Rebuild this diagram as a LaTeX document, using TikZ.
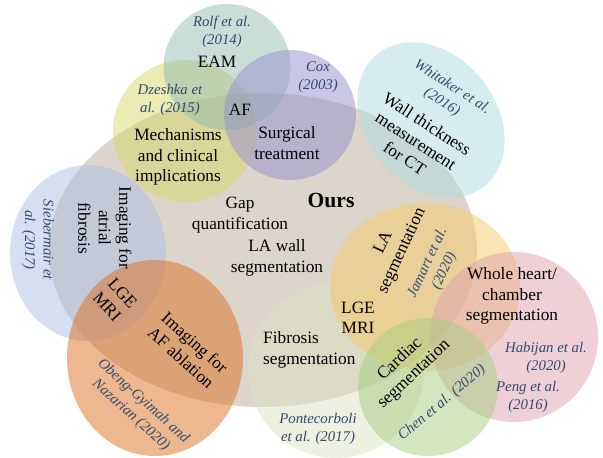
\documentclass[tikz,border=0pt]{standalone}
\usepackage{fontspec}
\setmainfont{Liberation Serif}
\usepackage{tikz}
\usetikzlibrary{shapes.geometric,positioning}
\definecolor{ours-c}{HTML}{B9AB99}
\definecolor{mech-c}{HTML}{D7D769}
\definecolor{eam-c}{HTML}{91BDAD}
\definecolor{surg-c}{HTML}{958FCD}
\definecolor{wall-c}{HTML}{ADDBE1}
\definecolor{fib-c}{HTML}{ADBDE5}
\definecolor{abl-c}{HTML}{DB6F21}
\definecolor{fseg-c}{HTML}{DDE1C1}
\definecolor{la-c}{HTML}{F7C969}
\definecolor{heart-c}{HTML}{DDA1AD}
\definecolor{card-c}{HTML}{A5CD81}
\definecolor{cite-c}{HTML}{2F4A6E}
\tikzset{
	zone/.style={ellipse, draw=none, fill opacity=0.5, inner sep=0pt},
	lbl/.style={align=center, inner sep=0pt, font=\fontsize{17.3}{20.5}\selectfont},
	cite/.style={align=center, inner sep=0pt, text=cite-c, font=\itshape\fontsize{14.8}{18.5}\selectfont}
}

\begin{document}
\begin{tikzpicture}[x=1pt, y=-1pt]
	\useasboundingbox (0, 0) rectangle (603, 458);
	
	\node (ours) at (263, 250) [zone, fill=ours-c, minimum width=428pt, minimum height=314pt] {};
	\node (mechz) at (185, 131) [zone, fill=mech-c, minimum width=144pt, minimum height=142pt] {};
	\node (eamz) at (227, 67) [zone, fill=eam-c, minimum width=127pt, minimum height=126pt] {};
	\node (surgz) at (290, 115) [zone, fill=surg-c, minimum width=132pt, minimum height=130pt] {};
	\node (wallz) at (431, 120) [zone, fill=wall-c, minimum width=170pt, minimum height=130pt, rotate=-51] {};
	\node (fibz) at (88, 253) [zone, fill=fib-c, minimum width=156pt, minimum height=176pt] {};
	\node (ablz) at (155, 358) [zone, fill=abl-c, minimum width=176pt, minimum height=196pt] {};
	\node (fsegz) at (336, 370) [zone, fill=fseg-c, minimum width=176pt, minimum height=176pt] {};
	\node (laz) at (425, 287) [zone, fill=la-c, minimum width=190pt, minimum height=168pt] {};
	\node (heartz) at (514, 337) [zone, fill=heart-c, minimum width=168pt, minimum height=170pt] {};
	\node (cardz) at (428, 387) [zone, fill=card-c, minimum width=140pt, minimum height=138pt] {};
	
	\node (ourst) at (331, 200) [lbl, font=\bfseries\fontsize{21.6}{26}\selectfont] {Ours};
	\node (gap) at (240, 215) [lbl] {Gap\\quantification};
	\node (lawall) at (277, 258) [lbl] {LA wall\\segmentation};
	
	\node (mech) at (178, 157) [lbl] {Mechanisms\\and clinical\\implications};
	\node (af) at (240, 110) [lbl] {AF};
	\node (eam) at (217, 62) [lbl] {EAM};
	\node (surg) at (287, 143) [lbl] {Surgical\\treatment};
	\node (rolf) at (222, 32) [cite] {Rolf et al.\\(2014)};
	\node (dzeshka) at (170, 100) [cite] {Dzeshka et\\al. (2015)};
	\node (cox) at (318, 77) [cite] {Cox\\(2003)};
	
	\node (wall) at (416, 141) [lbl, rotate=-33] {Wall thickness\\measurement\\for CT};
	\node (whitaker) at (447, 95) [cite, rotate=-33] {Whitaker et al.\\(2016)};
	
	\node (fib) at (105, 228) [lbl, rotate=-90] {Imaging for\\atrial\\fibrosis};
	\node (siebermair) at (38, 240) [cite, rotate=-90] {Siebermair et\\al. (2017)};
	\node (lge1) at (115, 300) [lbl, rotate=-48] {LGE\\MRI};
	
	\node (abl) at (188, 350) [lbl, rotate=-42] {Imaging for\\AF ablation};
	\node (obeng) at (137, 408) [cite, rotate=-42] {Obeng-Gyimah and\\Nazarian (2020)};
	
	\node (fseg) at (263, 350) [lbl, anchor=west, align=left] {Fibrosis\\segmentation};
	\node (ponte) at (318, 429) [cite] {Pontecorboli\\et al. (2017)};
	
	\node (la) at (393, 247) [lbl, rotate=65] {LA\\segmentation};
	\node (jamart) at (436, 267) [cite, rotate=65] {Jamart et al.\\(2020)};
	\node (lge2) at (358, 318) [lbl] {LGE\\MRI};
	
	\node (heart) at (512, 296) [lbl] {Whole heart/\\chamber\\segmentation};
	\node (habijan) at (546, 358) [cite] {Habijan et al.\\(2020)};
	\node (peng) at (528, 397) [cite] {Peng et al.\\(2016)};
	
	\node (card) at (407, 367) [lbl, rotate=43] {Cardiac\\segmentation};
	\node (chen) at (442, 403) [cite, rotate=40] {Chen et al. (2020)};
	
\end{tikzpicture}
\end{document}
